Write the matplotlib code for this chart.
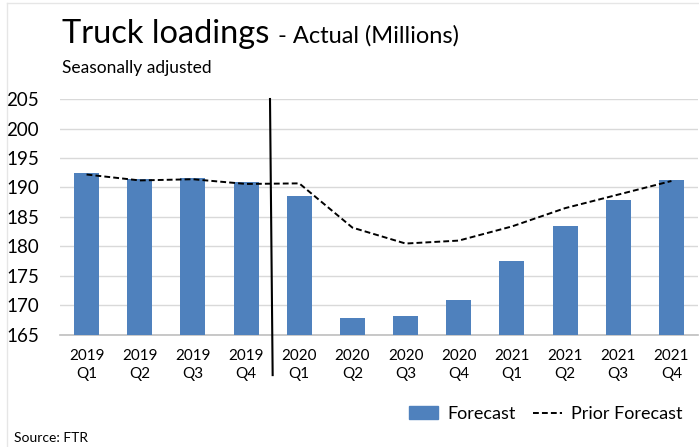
import matplotlib.pyplot as plt
import matplotlib.patches as mpatches
from matplotlib.lines import Line2D
import numpy as np

plt.rcParams['font.family'] = ['Lato', 'DejaVu Sans']

# quarters on the x axis
years = ['2019', '2019', '2019', '2019', '2020', '2020', '2020', '2020',
         '2021', '2021', '2021', '2021']
quarters = ['Q1', 'Q2', 'Q3', 'Q4', 'Q1', 'Q2', 'Q3', 'Q4',
            'Q1', 'Q2', 'Q3', 'Q4']
# truck loadings, millions (bars)
forecast = [192.5, 191.4, 191.6, 191.0, 188.5, 167.9, 168.3, 170.9,
            177.5, 183.4, 187.8, 191.2]
# prior forecast (dashed line)
prior_forecast = [192.2, 191.2, 191.4, 190.6, 190.7, 183.2, 180.5, 181.0,
                  183.4, 186.5, 188.8, 191.1]

fig = plt.figure(figsize=(6.99, 4.47), dpi=100)
ax = fig.add_axes([0.0858, 0.2506, 0.9128, 0.5279])

x = np.arange(len(forecast))
labels = [f'{y}\n{q}' for y, q in zip(years, quarters)]

ax.bar(x, forecast, width=0.47, color='#4f81bd', zorder=3)
ax.plot(x, prior_forecast, color='black', linestyle=(0, (3, 1.6)),
        linewidth=1.4, zorder=4)

ax.set_xlim(-0.5, len(forecast) - 0.5)
ax.set_ylim(165, 205)
ax.set_yticks(np.arange(165, 206, 5))
ax.set_xticks(x)
ax.set_xticklabels(labels, fontsize=11, linespacing=1.35)
ax.tick_params(axis='y', labelsize=13.5, length=0, pad=15)
ax.tick_params(axis='x', length=0, pad=10)
ax.grid(axis='y', color='#d9d9d9', linewidth=1, zorder=0)
for s in ['top', 'right', 'left']:
    ax.spines[s].set_visible(False)
ax.spines['bottom'].set_color('#bfbfbf')
ax.spines['bottom'].set_linewidth(1.2)

# divider between actual and forecast quarters
ax.plot([3.45, 3.5], [1.0, -0.17], color='black', linewidth=1.5,
        transform=ax.get_xaxis_transform(), clip_on=False, zorder=5)

# titles
fig.text(62 / 699, 1 - 43 / 447, 'Truck loadings', fontsize=23.5,
         ha='left', va='baseline')
fig.text(278 / 699, 1 - 43 / 447, '- Actual (Millions)', fontsize=17,
         ha='left', va='baseline')
fig.text(62 / 699, 1 - 73 / 447, 'Seasonally adjusted', fontsize=12.5,
         ha='left', va='baseline')
fig.text(14 / 699, 1 - 442 / 447, 'Source: FTR', fontsize=10,
         ha='left', va='baseline')

# legend
handles = [mpatches.Patch(color='#4f81bd', label='Forecast'),
           Line2D([0], [0], color='black', linestyle=(0, (3, 1.6)),
                  linewidth=1.4, label='Prior Forecast')]
fig.legend(handles=handles, loc='center right', ncol=2, frameon=False,
           bbox_to_anchor=(1.0, 1 - 414 / 447), fontsize=13,
           handlelength=1.6, handletextpad=0.5, columnspacing=1.0)

# faint outer frame
fig.add_artist(Line2D([7 / 699, 7 / 699], [0, 1 - 3 / 447],
                      color='#e6e6e6', linewidth=1, transform=fig.transFigure))
fig.add_artist(Line2D([7 / 699, 1], [1 - 3 / 447, 1 - 3 / 447],
                      color='#e6e6e6', linewidth=1, transform=fig.transFigure))

fig.savefig('out.png', dpi=100)
